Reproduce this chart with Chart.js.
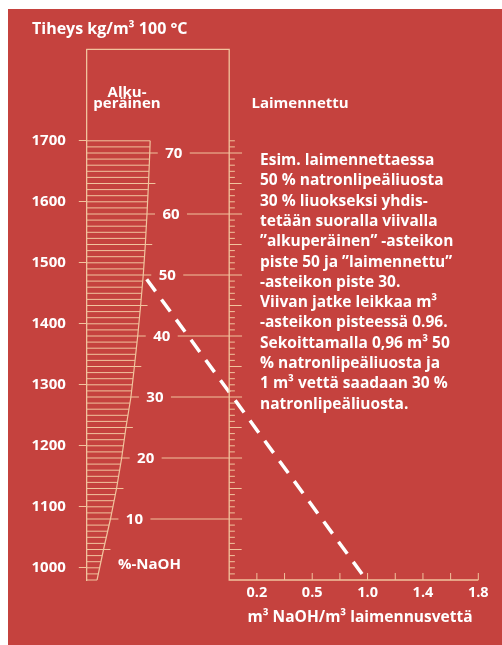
<!DOCTYPE html>
<html><head><meta charset="utf-8">
<script src="https://cdn.jsdelivr.net/npm/chart.js@4.4.1/dist/chart.umd.min.js"></script>
<style>html,body{margin:0;padding:0;background:#fff;}canvas{display:block;}</style>
</head><body>
<canvas id="c" width="502" height="645"></canvas>
<script>
// ---- data ----
// left ("alkuperäinen") curve: % NaOH level -> position on the ratio axis
const curvePct   = [0, 5, 10, 15, 20, 25, 30, 35, 40, 45, 50, 55, 60, 65, 70, 72];
const curveRatio = [-0.955, -0.908, -0.858, -0.814, -0.777, -0.746, -0.710, -0.685, -0.661, -0.640, -0.621, -0.606, -0.594, -0.583, -0.574, -0.571];
const pctLabels = [10, 20, 30, 40, 50, 60, 70];
const hatchTopPct = 72;
const densityTicks = [1000, 1100, 1200, 1300, 1400, 1500, 1600, 1700];
const ratioTickValues = [0.2, 0.6, 1.0, 1.4, 1.8];
const ratioTickLabels = ['0.2', '0.5', '1.0', '1.4', '1.8'];
const ratioMinorTicks = [0.2, 0.4, 0.6, 0.8, 1.0, 1.2, 1.4, 1.6, 1.8];
const exampleLine = [{x: -0.596, y: 49.3}, {x: 0.992, y: 0}];
const ratioRange = [-1.0325, 1.8];
const pctRange = [0, 87.0];
const densityRange = [979.2, 1849.6];
const textLines = [
  'Esim. laimennettaessa',
  '50 % natronlipeäliuosta',
  '30 % liuokseksi yhdis-',
  'tetään suoralla viivalla',
  '”alkuperäinen” -asteikon',
  'piste 50 ja ”laimennettu”',
  '-asteikon piste 30.',
  'Viivan jatke leikkaa m³',
  '-asteikon pisteessä 0.96.',
  'Sekoittamalla 0,96 m³ 50',
  '% natronlipeäliuosta ja',
  '1 m³ vettä saadaan 30 %',
  'natronlipeäliuosta.'
];

// ---- styling ----
const RED = '#c5423e';
const TAN = '#f1c39d';
const FONT = '"Open Sans", "Noto Sans", sans-serif';

function curveAt(c) {
  for (let i = 0; i < curvePct.length - 1; i++) {
    if (c <= curvePct[i + 1]) {
      const t = (c - curvePct[i]) / (curvePct[i + 1] - curvePct[i]);
      return curveRatio[i] + t * (curveRatio[i + 1] - curveRatio[i]);
    }
  }
  return curveRatio[curveRatio.length - 1];
}
const GAP = (x) => ({x: x, y: null});

// hatch lines (every 1 %) from the left frame to the curve
const hatch = [];
for (let c = 0; c <= hatchTopPct; c++) {
  let ext = 0;
  if (c > 0 && c % 10 === 0) ext = 0.058; else if (c > 0 && c % 5 === 0) ext = 0.05;
  hatch.push({x: ratioRange[0], y: c}, {x: curveAt(c) + ext, y: c}, GAP(0));
}
// ticks on the "laimennettu" vertical scale
const rightTicks = [];
for (let c = 1; c <= hatchTopPct; c++) {
  if (c % 10 === 0) continue;
  const len = c % 5 === 0 ? 0.09 : 0.041;
  rightTicks.push({x: 0, y: c}, {x: len, y: c}, GAP(0));
}
// long lines at every 10 %
const longLines = [];
pctLabels.forEach(c => {
  longLines.push({x: curveAt(c) + 0.289, y: c}, {x: 0.093, y: c}, GAP(0));
});
// ticks on the ratio axis
const xTicks = [];
ratioMinorTicks.forEach(v => { xTicks.push({x: v, y: 0}, {x: v, y: 1.15}, GAP(v)); });
const curveData = curvePct.map((c, i) => ({x: curveRatio[i], y: c}));
const frame = [{x: ratioRange[0], y: pctRange[1]}, {x: 0, y: pctRange[1]}, {x: 0, y: 0}, {x: ratioRange[1], y: 0}];

const base = {showLine: true, pointRadius: 0, pointHoverRadius: 0, tension: 0, clip: false, spanGaps: false, yAxisID: 'y', xAxisID: 'x'};

const textPlugin = {
  id: 'nomoTexts',
  beforeDraw(chart) {
    const ctx = chart.ctx;
    ctx.save();
    ctx.fillStyle = '#ffffff';
    ctx.fillRect(0, 0, chart.width, chart.height);
    ctx.fillStyle = RED;
    ctx.fillRect(8, 9, chart.width - 8, chart.height - 9);
    ctx.restore();
  },
  afterDraw(chart) {
    const ctx = chart.ctx, xs = chart.scales.x, ys = chart.scales.y;
    ctx.save();
    ctx.fillStyle = '#ffffff';
    ctx.textBaseline = 'alphabetic';
    ctx.font = 'bold 16px ' + FONT;
    ctx.textAlign = 'left';
    ctx.fillText('Tiheys kg/m³ 100 °C', 32, 33.5);
    ctx.font = 'bold 15px ' + FONT;
    ctx.textAlign = 'center';
    ctx.fillText('Alku-', 127, 96.5);
    ctx.fillText('peräinen', 127, 107.5);
    ctx.textAlign = 'left';
    ctx.fillText('Laimennettu', 251.5, 107.7);
    ctx.fillText('%-NaOH', 118, 568.5);
    ctx.font = 'bold 15.5px ' + FONT;
    textLines.forEach((t, i) => ctx.fillText(t, 260, 165 + i * 20.3));
    ctx.textAlign = 'center';
    ctx.fillText('m³ NaOH/m³ laimennusvettä', 360, 622);
    ctx.font = 'bold 15px ' + FONT;
    ctx.textBaseline = 'middle';
    pctLabels.forEach(c => {
      ctx.fillText(String(c), xs.getPixelForValue(curveAt(c)) + 24, ys.getPixelForValue(c) + 0.5);
    });
    ctx.restore();
  }
};

new Chart(document.getElementById('c'), {
  type: 'scatter',
  data: {
    datasets: [
      Object.assign({}, base, {data: hatch, borderColor: TAN, borderWidth: 1}),
      Object.assign({}, base, {data: curveData, borderColor: TAN, borderWidth: 1.2}),
      Object.assign({}, base, {data: rightTicks, borderColor: TAN, borderWidth: 1}),
      Object.assign({}, base, {data: longLines, borderColor: TAN, borderWidth: 1}),
      Object.assign({}, base, {data: xTicks, borderColor: TAN, borderWidth: 1}),
      Object.assign({}, base, {data: frame, borderColor: TAN, borderWidth: 1.3}),
      Object.assign({}, base, {data: exampleLine, borderColor: '#ffffff', borderWidth: 3.5, borderDash: [15, 10], borderCapStyle: 'butt'})
    ]
  },
  options: {
    responsive: false,
    animation: false,
    devicePixelRatio: 1,
    events: [],
    layout: {padding: {top: 49.3, right: 23.7, bottom: 0, left: 0}},
    plugins: {legend: {display: false}, tooltip: {enabled: false}, title: {display: false}},
    scales: {
      x: {
        type: 'linear', position: 'bottom', min: ratioRange[0], max: ratioRange[1],
        afterBuildTicks: s => { s.ticks = ratioTickValues.map(v => ({value: v})); },
        afterFit: s => { s.height = 645 - 580; },
        grid: {display: false, drawTicks: false},
        border: {display: false},
        ticks: {
          color: '#ffffff', padding: 4, maxRotation: 0, autoSkip: false,
          font: {family: FONT, size: 14.5, weight: 'bold'},
          callback: (v) => { const i = ratioTickValues.findIndex(t => Math.abs(t - v) < 1e-6); return i >= 0 ? ratioTickLabels[i] : ''; }
        },
        title: {display: false}
      },
      y: {type: 'linear', display: false, min: pctRange[0], max: pctRange[1]},
      yD: {
        type: 'linear', position: 'left', min: densityRange[0], max: densityRange[1],
        afterBuildTicks: s => { s.ticks = densityTicks.map(v => ({value: v})); },
        afterFit: s => { s.width = 86.3; },
        grid: {drawOnChartArea: false, drawTicks: true, tickLength: 7.5, color: TAN, lineWidth: 1},
        border: {display: true, color: TAN, width: 1.3},
        ticks: {color: '#ffffff', padding: 13, autoSkip: false, font: {family: FONT, size: 15, weight: 'bold'},
          callback: v => String(v)}
      }
    }
  },
  plugins: [textPlugin]
});
</script>
</body></html>
